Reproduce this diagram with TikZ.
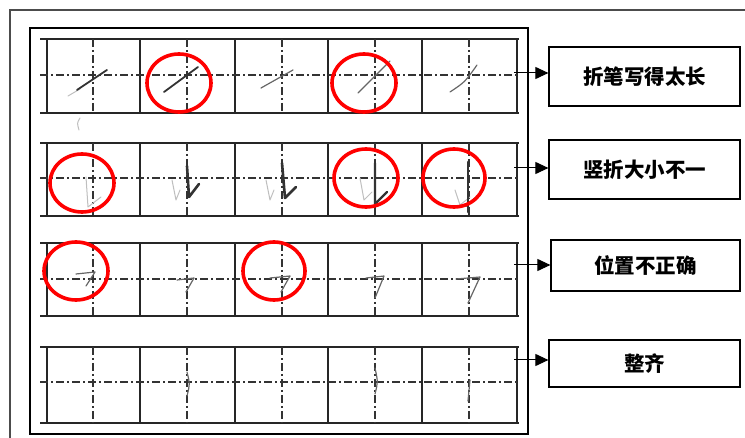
\documentclass[tikz,border=0pt]{standalone}
\usepackage{fontspec}
\newfontfamily\cjk{Noto Sans CJK SC}
\usetikzlibrary{arrows.meta}
\tikzset{
  frameline/.style={line width=1.4pt, black!70},
  innerframe/.style={line width=2pt, black},
  gridsolid/.style={line width=1.5pt, black!85},
  griddash/.style={line width=1.3pt, black!80, dash pattern=on 8pt off 3pt on 2pt off 3pt},
  redring/.style={draw=red, line width=3.6pt},
  inkdark/.style={line width=1.8pt, black!80, line cap=round, line join=round},
  inkmid/.style={line width=1.2pt, black!60, line cap=round, line join=round},
  inkfaint/.style={line width=1pt, black!25, line cap=round, line join=round},
  labelbox/.style={draw, line width=1.2pt, inner sep=0pt, font=\cjk\bfseries\fontsize{20.5}{20.5}\selectfont},
  pointer/.style={-{Triangle[length=13pt,width=12pt]}, line width=1pt}
}
\newcommand\writingrow[3]{%
  \draw[gridsolid] (40,#1) -- (519,#1);
  \draw[gridsolid] (40,#2) -- (519,#2);
  \foreach \xx in {47,140,235,328,422,517} \draw[gridsolid] (\xx,#1) -- (\xx,#2);
  \foreach \xx in {93,187,282,375,469} \draw[griddash] (\xx,#1) -- (\xx,#2);
  \draw[griddash] (40,#3) -- (517,#3);
}
\begin{document}
\begin{tikzpicture}[x=1pt,y=-1pt]
\useasboundingbox (0,0) rectangle (745,438);
% outer frame
\draw[frameline] (10,438) -- (10,10) -- (745,10);
% inner frame
\draw[innerframe] (30,28) rectangle (528,434);
% grid rows
\writingrow{39}{113}{75}
\writingrow{143}{216}{178}
\writingrow{243}{316}{279}
\writingrow{347}{423}{382}
% row 1 strokes
\draw[inkfaint] (68,96) -- (80,89);
\draw[inkdark] (77,90) -- (107,70);
\draw[inkfaint] (80,118) .. controls (77,123) .. (79,130);
\draw[inkdark] (164,92) -- (198,67);
\draw[inkmid] (261,88) -- (293,70);
\draw[inkmid] (358,93) -- (390,61);
\draw[inkmid] (450,92) .. controls (465,82) .. (477,65);
% row 2 strokes
\draw[inkfaint] (86,177) -- (88,207) -- (101,197);
\draw[inkfaint] (172,180) -- (176,200) -- (180,190);
\draw[inkdark,line width=2.6pt] (187,166) -- (189,197) -- (199,184);
\draw[inkfaint] (266,180) -- (270,200) -- (274,190);
\draw[inkdark,line width=2.6pt] (282,163) -- (285,198) -- (296,187);
\draw[inkfaint] (360,178) -- (364,200) -- (372,192);
\draw[inkdark,line width=2.4pt] (375,163) -- (375,204) -- (387,192);
\draw[inkfaint] (455,190) -- (460,205) -- (470,197);
\draw[inkdark,line width=2.6pt] (468,162) -- (468,212);
\draw[inkdark] (466,206) -- (478,196);
% row 3 strokes
\draw[inkmid] (76,274) -- (95,272) -- (86,286);
\draw[inkmid] (177,280) -- (194,278) -- (186,292);
\draw[inkmid] (270,278) -- (290,276) -- (281,292);
\draw[inkmid] (366,278) -- (384,276) -- (375,298);
\draw[inkmid] (456,279) -- (480,277) -- (468,303);
% row 4 strokes
\draw[inkmid] (187,372) .. controls (190,384) .. (187,396);
\draw[inkmid] (375,368) .. controls (378,382) .. (375,394);
\draw[inkmid] (470,380) -- (468,401);
% red circles
\draw[redring] (179,83) ellipse [x radius=32, y radius=29];
\draw[redring] (364,83) ellipse [x radius=32, y radius=29];
\draw[redring] (82,183) ellipse [x radius=32, y radius=29];
\draw[redring] (366,178) ellipse [x radius=32, y radius=29];
\draw[redring] (454,178) ellipse [x radius=31, y radius=29];
\draw[redring] (76,271) ellipse [x radius=32, y radius=29];
\draw[redring] (274,271) ellipse [x radius=31, y radius=29];
% label boxes
\node[labelbox, minimum width=191pt, minimum height=59pt] (b1) at (644.5,76.5) {折笔写得太长};
\node[labelbox, minimum width=191pt, minimum height=59pt] (b2) at (644.5,169.5) {竖折大小不一};
\node[labelbox, minimum width=189pt, minimum height=51pt] (b3) at (645.5,265.5) {位置不正确};
\node[labelbox, minimum width=191pt, minimum height=47pt] (b4) at (644.5,363.5) {整齐};
% arrow starts
\coordinate (a1) at (514,73);
\coordinate (a2) at (514,168);
\coordinate (a3) at (514,265);
\coordinate (a4) at (514,360);
\draw[pointer] (a1) -- (a1 -| b1.west);
\draw[pointer] (a2) -- (a2 -| b2.west);
\draw[pointer] (a3) -- (a3 -| b3.west);
\draw[pointer] (a4) -- (a4 -| b4.west);
\end{tikzpicture}
\end{document}
